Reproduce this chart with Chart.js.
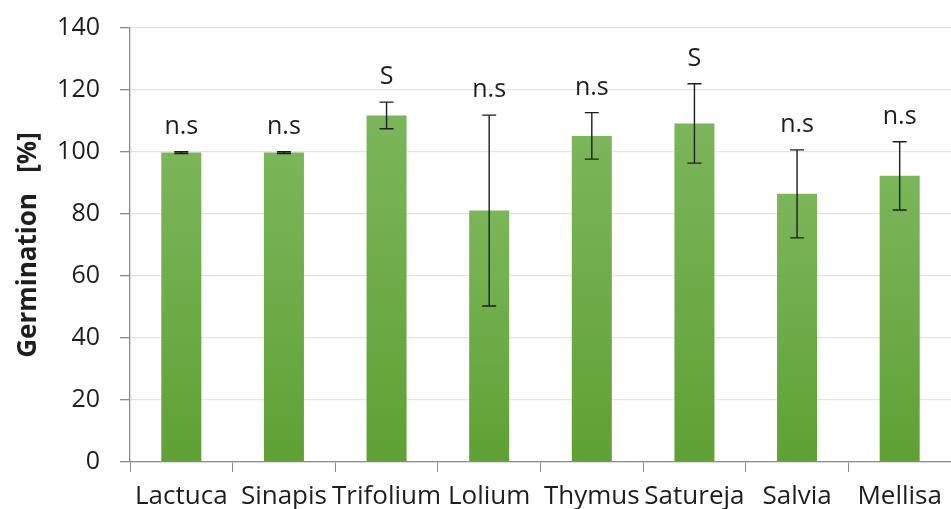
<!DOCTYPE html>
<html lang="en">
<head>
    <meta charset="UTF-8">
    <style>
        body {
            margin: 0;
            background-color: #ffffff;
        }
        .wrap {
            width: 951px;
            height: 509px;
        }
    </style>
    <script src="https://cdn.jsdelivr.net/npm/chart.js"></script>
    <title>Germination</title>
</head>
<body>
    <div class="wrap">
        <canvas id="grafico" width="951" height="509"></canvas>
    </div>

    <script>
        // dados
        const especies = ["Lactuca", "Sinapis", "Trifolium", "Lolium", "Thymus", "Satureja", "Salvia", "Mellisa"];
        const germinacao = [99.8, 99.8, 111.8, 81.1, 105.2, 109.2, 86.5, 92.3];
        const desvio = [0.3, 0.3, 4.3, 30.8, 7.5, 12.8, 14.2, 11.0];
        const significancia = ["n.s", "n.s", "S", "n.s", "n.s", "S", "n.s", "n.s"];
        const ticksY = [0, 20, 40, 60, 80, 100, 120, 140];

        const fonte = "'Open Sans', 'Liberation Sans', sans-serif";

        // barras de erro + rótulos n.s / S
        const errosPlugin = {
            id: "erros",
            afterDatasetsDraw(chart) {
                const ctx = chart.ctx;
                const y = chart.scales.y;
                const meta = chart.getDatasetMeta(0);
                ctx.save();
                ctx.strokeStyle = "#1e1e1e";
                ctx.lineWidth = 1.4;
                meta.data.forEach((bar, i) => {
                    const cx = bar.x;
                    const yt = y.getPixelForValue(germinacao[i] + desvio[i]);
                    const yb = y.getPixelForValue(germinacao[i] - desvio[i]);
                    ctx.beginPath();
                    ctx.moveTo(cx, yt);
                    ctx.lineTo(cx, yb);
                    ctx.moveTo(cx - 7, yt);
                    ctx.lineTo(cx + 7, yt);
                    ctx.moveTo(cx - 7, yb);
                    ctx.lineTo(cx + 7, yb);
                    ctx.stroke();

                    ctx.fillStyle = "#1e1e1e";
                    ctx.font = "25px " + fonte;
                    ctx.textAlign = "center";
                    ctx.textBaseline = "middle";
                    ctx.fillText(significancia[i], cx, yt - 25);
                });
                ctx.restore();
            }
        };

        function corBarra(context) {
            const chart = context.chart;
            const area = chart.chartArea;
            if (!area) return "#6aab45";
            const v = context.raw;
            const y = chart.scales.y;
            const topo = y.getPixelForValue(v);
            const base = y.getPixelForValue(0);
            const g = chart.ctx.createLinearGradient(0, topo, 0, base);
            g.addColorStop(0, "#7bb65a");
            g.addColorStop(1, "#5fa134");
            return g;
        }

        const ctx = document.getElementById("grafico").getContext("2d");
        new Chart(ctx, {
            type: "bar",
            data: {
                labels: especies,
                datasets: [{
                    label: "Germination",
                    data: germinacao,
                    backgroundColor: corBarra,
                    borderWidth: 0,
                    barPercentage: 0.39,
                    categoryPercentage: 1.0
                }]
            },
            options: {
                responsive: false,
                animation: false,
                layout: {
                    padding: { top: 28, right: 0, bottom: 0, left: 0 }
                },
                plugins: {
                    legend: { display: false },
                    tooltip: { enabled: false }
                },
                scales: {
                    x: {
                        grid: {
                            display: true,
                            drawOnChartArea: false,
                            drawTicks: true,
                            tickLength: 10,
                            tickColor: "#8c8c8c",
                            offset: true
                        },
                        border: { color: "#8c8c8c", width: 1.3 },
                        ticks: {
                            color: "#1e1e1e",
                            font: { size: 26, family: fonte },
                            padding: 9,
                            maxRotation: 0,
                            autoSkip: false
                        },
                        afterFit(scale) {
                            scale.height = 47;
                            scale.paddingLeft = 0;
                            scale.paddingRight = 0;
                        }
                    },
                    y: {
                        min: 0,
                        max: 140,
                        afterBuildTicks(scale) {
                            scale.ticks = ticksY.map(v => ({ value: v }));
                        },
                        grid: {
                            color: "#e4e4e4",
                            lineWidth: 1.3,
                            tickLength: 10,
                            tickColor: "#8c8c8c"
                        },
                        border: { color: "#8c8c8c", width: 1.3 },
                        ticks: {
                            color: "#1e1e1e",
                            font: { size: 25, family: fonte },
                            padding: 20
                        },
                        title: {
                            display: true,
                            text: "Germination   [%]",
                            color: "#1e1e1e",
                            font: { size: 26, weight: "bold", family: fonte },
                            padding: { top: 13, bottom: 0 }
                        },
                        afterFit(scale) {
                            scale.width = 130;
                            scale.paddingTop = 0;
                            scale.paddingBottom = 0;
                        }
                    }
                }
            },
            plugins: [errosPlugin]
        });
    </script>
</body>
</html>
